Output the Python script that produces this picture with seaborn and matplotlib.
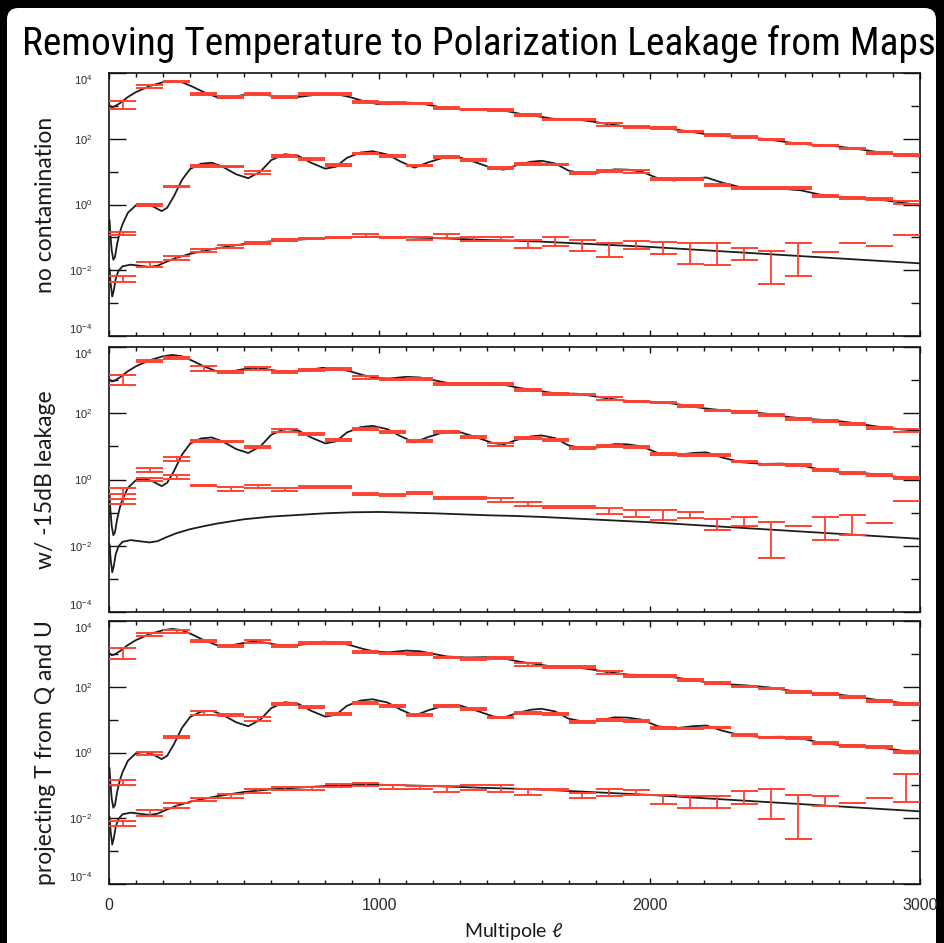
import numpy as np
import pandas as pd
import matplotlib
matplotlib.use("Agg")
import matplotlib.pyplot as plt
import seaborn as sns
from matplotlib.patches import FancyBboxPatch
from matplotlib.ticker import FixedLocator, FixedFormatter, NullFormatter

nan = np.nan

TITLE = "Removing Temperature to Polarization Leakage from Maps"
PANEL_LABELS = ["no contamination", "w/ -15dB leakage", "projecting T from Q and U"]
X_LABEL = r"Multipole $\ell$"
X_TICKS = [0, 1000, 2000, 3000]
X_TICK_LABELS = ["0", "1000", "2000", "3000"]
Y_TICKS = [1e-4, 1e-2, 1e0, 1e2, 1e4]
Y_TICK_LABELS = [r"$10^{-4}$", r"$10^{-2}$", r"$10^{0}$", r"$10^{2}$", r"$10^{4}$"]
Y_MINOR = [1e-3, 1e-1, 1e1, 1e3]

# multipole bin edges (Delta ell = 100)
BIN_EDGES = [0, 100, 200, 300, 400, 500, 600, 700, 800, 900, 1000,
             1100, 1200, 1300, 1400, 1500, 1600, 1700, 1800, 1900, 2000,
             2100, 2200, 2300, 2400, 2500, 2600, 2700, 2800, 2900, 3000]

# ---- theory spectra, log10 D_ell ----
TT_ELL = [2, 10, 20, 40, 70, 100, 150, 200, 235, 270, 310, 350, 400, 440, 490,
          530, 570, 620, 680, 730, 790, 840, 890, 940, 990, 1040, 1100, 1150,
          1200, 1250, 1320, 1400, 1460, 1520, 1580, 1650, 1730, 1790, 1850,
          1920, 2000, 2060, 2130, 2200, 2280, 2360, 2440, 2520, 2600, 2680,
          2760, 2840, 2920, 3000]
TT_LOG = [3.02, 2.96, 2.98, 3.08, 3.27, 3.42, 3.60, 3.72, 3.76, 3.72, 3.58,
          3.42, 3.26, 3.24, 3.32, 3.37, 3.35, 3.28, 3.25, 3.30, 3.37, 3.36,
          3.27, 3.15, 3.06, 3.05, 3.10, 3.08, 3.00, 2.92, 2.89, 2.90, 2.86,
          2.76, 2.69, 2.60, 2.59, 2.52, 2.44, 2.37, 2.35, 2.32, 2.24, 2.15,
          2.08, 2.04, 1.98, 1.88, 1.82, 1.78, 1.70, 1.60, 1.52, 1.46]

EE_ELL = [2, 5, 10, 16, 22, 30, 40, 50, 70, 100, 130, 160, 195, 215, 240, 270,
          300, 340, 380, 420, 470, 515, 560, 600, 650, 700, 750, 800, 840, 880,
          930, 975, 1030, 1080, 1130, 1180, 1240, 1290, 1350, 1420, 1460, 1510,
          1560, 1600, 1650, 1700, 1760, 1810, 1870, 1920, 1970, 2030, 2090,
          2160, 2210, 2270, 2340, 2420, 2490, 2560, 2630, 2700, 2780, 2860,
          2930, 3000]
EE_LOG = [-0.47, -0.90, -1.40, -1.68, -1.60, -1.20, -0.85, -0.60, -0.25, -0.02,
          0.02, -0.05, -0.20, -0.10, 0.25, 0.75, 1.08, 1.24, 1.27, 1.15, 0.92,
          0.80, 1.00, 1.35, 1.53, 1.48, 1.26, 1.09, 1.15, 1.42, 1.58, 1.62,
          1.52, 1.30, 1.12, 1.28, 1.43, 1.45, 1.30, 1.10, 1.06, 1.20, 1.30,
          1.33, 1.25, 1.03, 0.93, 0.97, 1.07, 1.06, 1.00, 0.80, 0.73, 0.80,
          0.82, 0.66, 0.52, 0.47, 0.48, 0.43, 0.30, 0.23, 0.20, 0.14, 0.06,
          -0.02]

BB_ELL = [2, 6, 12, 18, 25, 35, 50, 80, 110, 150, 180, 210, 250, 300, 350, 400,
          500, 600, 700, 800, 900, 1000, 1100, 1200, 1300, 1400, 1500, 1600,
          1700, 1800, 1900, 2000, 2200, 2400, 2600, 2800, 3000]
BB_LOG = [-1.95, -2.40, -2.80, -2.60, -2.25, -2.02, -1.88, -1.83, -1.86, -1.90,
          -1.86, -1.75, -1.62, -1.50, -1.41, -1.33, -1.20, -1.12, -1.07, -1.02,
          -0.99, -0.98, -1.00, -1.02, -1.05, -1.08, -1.10, -1.13, -1.17, -1.21,
          -1.25, -1.29, -1.39, -1.49, -1.59, -1.69, -1.79]

# ---- binned spectra: log10 of upper / lower error-bar ends per bin ----
# panel 1: no contamination
TT_HI_1 = [3.16, 3.63, 3.75, 3.39, 3.29, 3.39, 3.29, 3.39, 3.39, 3.15, 3.11, 3.10,
           2.96, 2.91, 2.91, 2.74, 2.61, 2.61, 2.47, 2.38, 2.35, 2.25, 2.13, 2.08,
           2.00, 1.88, 1.82, 1.73, 1.60, 1.53]
TT_LO_1 = [2.91, 3.55, 3.72, 3.33, 3.24, 3.34, 3.24, 3.34, 3.34, 3.09, 3.06, 3.05,
           2.91, 2.86, 2.85, 2.69, 2.56, 2.56, 2.40, 2.34, 2.30, 2.20, 2.07, 2.03,
           1.95, 1.83, 1.78, 1.68, 1.55, 1.48]
EE_HI_1 = [-0.83, 0.03, 0.56, 1.21, 1.17, 1.02, 1.50, 1.42, 1.22, 1.57, 1.52, 1.21,
           1.47, 1.39, 1.13, 1.26, 1.24, 0.99, 1.04, 1.04, 0.81, 0.81, 0.62, 0.52,
           0.52, 0.52, 0.30, 0.23, 0.20, 0.11]
EE_LO_1 = [-0.93, -0.05, 0.52, 1.13, 1.13, 0.94, 1.45, 1.36, 1.17, 1.53, 1.46, 1.16,
           1.42, 1.33, 1.07, 1.21, 1.19, 0.93, 0.99, 0.97, 0.74, 0.75, 0.57, 0.47,
           0.47, 0.47, 0.24, 0.18, 0.15, 0.01]
BB_HI_1 = [-2.19, -1.76, -1.57, -1.36, -1.23, -1.13, -1.06, -1.01, -0.98, -0.91,
           -0.98, -0.98, -0.91, -0.98, -0.98, -1.08, -0.98, -1.08, -1.18, -1.11,
           -1.15, -1.17, -1.17, -1.31, -1.40, -1.16, -1.44, -1.16, -1.26, -0.93]
BB_LO_1 = [-2.36, -1.89, -1.69, -1.46, -1.31, -1.21, -1.10, -1.05, -1.02, -1.00,
           -1.02, -1.08, -1.03, -1.11, -1.11, -1.33, -1.26, -1.41, -1.61, -1.36,
           -1.51, -1.80, -1.84, -1.70, -2.41, -2.17, nan, nan, nan, nan]

# panel 2: -15 dB T->P leakage
TT_HI_2 = [3.14, 3.62, 3.71, 3.42, 3.27, 3.39, 3.27, 3.34, 3.36, 3.11, 3.04, 3.07,
           2.92, 2.90, 2.90, 2.74, 2.62, 2.59, 2.48, 2.38, 2.35, 2.25, 2.11, 2.06,
           1.97, 1.86, 1.81, 1.71, 1.58, 1.51]
TT_LO_2 = [2.86, 3.55, 3.63, 3.29, 3.22, 3.32, 3.22, 3.28, 3.30, 3.04, 2.99, 3.01,
           2.86, 2.84, 2.84, 2.66, 2.56, 2.54, 2.41, 2.33, 2.31, 2.18, 2.06, 2.00,
           1.91, 1.81, 1.75, 1.65, 1.51, 1.44]
EE_HI_2 = [-0.45, 0.04, 0.68, 1.20, 1.17, 1.02, 1.51, 1.40, 1.22, 1.56, 1.47, 1.18,
           1.46, 1.32, 1.09, 1.27, 1.22, 0.97, 1.04, 1.00, 0.80, 0.77, 0.77, 0.57,
           0.47, 0.46, 0.33, 0.22, 0.17, 0.07]
EE_LO_2 = [-0.60, -0.05, 0.56, 1.14, 1.12, 0.96, 1.44, 1.34, 1.15, 1.48, 1.40, 1.12,
           1.40, 1.26, 1.02, 1.21, 1.17, 0.92, 0.99, 0.94, 0.74, 0.72, 0.72, 0.52,
           0.43, 0.41, 0.27, 0.17, 0.12, 0.01]
BB_HI_2 = [-0.26, 0.36, 0.13, -0.17, -0.24, -0.17, -0.26, -0.21, -0.21, -0.40,
           -0.45, -0.39, -0.53, -0.53, -0.57, -0.69, -0.79, -0.79, -0.87, -0.93,
           -0.93, -0.98, -1.20, -1.12, -1.27, -1.40, -1.12, -1.08, -1.31, -0.65]
BB_LO_2 = [-0.75, 0.23, 0.03, -0.21, -0.35, -0.25, -0.35, -0.25, -0.25, -0.46,
           -0.51, -0.45, -0.60, -0.60, -0.67, -0.79, -0.87, -0.87, -1.03, -1.12,
           -1.22, -1.15, -1.51, -1.40, -2.36, nan, -1.84, -1.69, nan, nan]

# panel 3: T projected out of Q and U
TT_HI_3 = [3.17, 3.65, 3.73, 3.42, 3.28, 3.42, 3.26, 3.37, 3.37, 3.10, 3.04, 3.04,
           2.91, 2.87, 2.89, 2.72, 2.62, 2.62, 2.47, 2.37, 2.37, 2.23, 2.13, 2.03,
           1.97, 1.86, 1.81, 1.73, 1.60, 1.50]
TT_LO_3 = [2.84, 3.55, 3.65, 3.36, 3.22, 3.34, 3.21, 3.31, 3.31, 3.04, 2.99, 2.98,
           2.86, 2.82, 2.84, 2.64, 2.56, 2.56, 2.39, 2.31, 2.31, 2.17, 2.07, 1.98,
           1.93, 1.80, 1.75, 1.65, 1.55, 1.44]
EE_HI_3 = [-0.83, 0.01, 0.49, 1.25, 1.16, 1.07, 1.51, 1.40, 1.20, 1.55, 1.45, 1.16,
           1.44, 1.36, 1.09, 1.24, 1.21, 0.95, 1.02, 0.99, 0.77, 0.76, 0.79, 0.56,
           0.48, 0.46, 0.31, 0.22, 0.19, 0.06]
EE_LO_3 = [-1.00, -0.09, 0.43, 1.15, 1.10, 0.97, 1.44, 1.34, 1.14, 1.48, 1.39, 1.10,
           1.38, 1.30, 1.04, 1.18, 1.15, 0.90, 0.96, 0.94, 0.72, 0.72, 0.74, 0.49,
           0.44, 0.41, 0.25, 0.17, 0.14, -0.01]
BB_HI_3 = [-2.08, -1.76, -1.54, -1.37, -1.27, -1.12, -1.05, -1.05, -0.95, -0.93,
           -1.00, -1.02, -1.02, -1.00, -1.00, -1.10, -1.10, -1.23, -1.12, -1.15,
           -1.30, -1.33, -1.33, -1.17, -1.12, -1.30, -1.32, -1.53, -1.37, -0.65]
BB_LO_3 = [-2.24, -1.93, -1.68, -1.47, -1.37, -1.22, -1.15, -1.15, -1.05, -1.02,
           -1.10, -1.10, -1.20, -1.15, -1.20, -1.30, -1.15, -1.38, -1.32, -1.30,
           -1.58, -1.68, -1.68, -1.58, -2.03, -2.62, -1.62, nan, nan, -1.50]

PANELS = [
    [(TT_HI_1, TT_LO_1), (EE_HI_1, EE_LO_1), (BB_HI_1, BB_LO_1)],
    [(TT_HI_2, TT_LO_2), (EE_HI_2, EE_LO_2), (BB_HI_2, BB_LO_2)],
    [(TT_HI_3, TT_LO_3), (EE_HI_3, EE_LO_3), (BB_HI_3, BB_LO_3)],
]

# ---- styling ----
W, H = 945, 943
RED = "#ff4231"
CURVE = "#1c1c1c"
TEXT_FONT = ["Lato", "DejaVu Sans"]
TITLE_FONT = ["Liberation Sans Narrow", "Roboto Condensed", "Lato", "DejaVu Sans"]

sns.set_theme(style="ticks")
plt.rcParams["font.family"] = ["Liberation Sans", "DejaVu Sans"]
plt.rcParams["mathtext.default"] = "regular"

fig = plt.figure(figsize=(W / 100, H / 100), dpi=100)
fig.patch.set_facecolor("black")
sheet = FancyBboxPatch((7 / W, -0.06), (936 - 7) / W, 1.06 - 8 / H,
                       boxstyle="round,pad=0,rounding_size=0.012",
                       transform=fig.transFigure, facecolor="white",
                       edgecolor="none", zorder=-10)
fig.add_artist(sheet)

# axes boxes in pixels: (left, top, right, bottom)
BOXES = [(109, 73, 920, 336), (109, 347, 920, 612), (109, 621, 920, 884)]

curves = pd.concat([
    pd.DataFrame({"ell": TT_ELL, "Dl": np.power(10.0, TT_LOG), "spec": "TT"}),
    pd.DataFrame({"ell": EE_ELL, "Dl": np.power(10.0, EE_LOG), "spec": "EE"}),
    pd.DataFrame({"ell": BB_ELL, "Dl": np.power(10.0, BB_LOG), "spec": "BB"}),
], ignore_index=True)


def draw_bins(ax, hi, lo):
    hi_v = np.power(10.0, np.asarray(hi, float))
    lo_v = np.power(10.0, np.asarray(lo, float))
    left = np.asarray(BIN_EDGES[:-1], float)
    right = np.asarray(BIN_EDGES[1:], float)
    mid = 0.5 * (left + right)
    ok = ~np.isnan(lo_v)
    ax.hlines(hi_v, left, right, colors=RED, lw=1.4, zorder=4)
    ax.hlines(lo_v[ok], left[ok], right[ok], colors=RED, lw=1.4, zorder=4)
    ax.vlines(mid[ok], lo_v[ok], hi_v[ok], colors=RED, lw=1.3, zorder=4)


axes = []
for i, (l, t, r, b) in enumerate(BOXES):
    ax = fig.add_axes([l / W, 1 - b / H, (r - l) / W, (b - t) / H])
    axes.append(ax)
    ax.set_facecolor("white")
    for spec in ["TT", "EE", "BB"]:
        sns.lineplot(data=curves[curves["spec"] == spec], x="ell", y="Dl",
                     ax=ax, color=CURVE, lw=1.3, estimator=None, sort=False,
                     zorder=3, legend=False)
    for hi, lo in PANELS[i]:
        draw_bins(ax, hi, lo)

    ax.set_yscale("log")
    ax.set_xlim(0, 3000)
    ax.set_ylim(1e-4, 1e4)
    ax.set_xlabel("")
    ax.set_ylabel("")

    ax.xaxis.set_major_locator(FixedLocator(X_TICKS))
    ax.xaxis.set_minor_locator(FixedLocator(BIN_EDGES))
    ax.yaxis.set_major_locator(FixedLocator(Y_TICKS))
    ax.yaxis.set_minor_locator(FixedLocator(Y_MINOR))
    ax.yaxis.set_major_formatter(FixedFormatter(Y_TICK_LABELS))
    ax.yaxis.set_minor_formatter(NullFormatter())
    if i == 2:
        ax.xaxis.set_major_formatter(FixedFormatter(X_TICK_LABELS))
    else:
        ax.xaxis.set_major_formatter(NullFormatter())
    ax.xaxis.set_minor_formatter(NullFormatter())

    ax.tick_params(axis="both", which="both", direction="in", top=True,
                   right=True, color="#111111", width=1.0)
    ax.tick_params(axis="y", which="major", length=12, pad=12,
                   labelsize=8, labelcolor="#2a2a2a")
    ax.tick_params(axis="y", which="minor", length=6.5)
    ax.tick_params(axis="x", which="major", length=4.5, pad=10,
                   labelsize=11.5, labelcolor="#2a2a2a")
    ax.tick_params(axis="x", which="minor", length=3)
    for sp in ax.spines.values():
        sp.set_visible(True)
        sp.set_linewidth(1.2)
        sp.set_color("#111111")

    fig.text(46 / W, 1 - 0.5 * (t + b) / H, PANEL_LABELS[i], rotation=90,
             ha="center", va="center", fontsize=16.5, family=TEXT_FONT,
             color="#1a1a1a")

fig.text(514 / W, 1 - 931 / H, X_LABEL, ha="center", va="center",
         fontsize=14, family=TEXT_FONT, color="#1a1a1a")

title = fig.text((21 + 937) / 2 / W, 1 - 55 / H, TITLE, ha="center",
                 va="baseline", fontsize=30, family=TITLE_FONT, color="black")
fig.canvas.draw()
tw = title.get_window_extent().width
title.set_fontsize(30 * 915 / tw)

# keep the end labels of each log axis inside the frame
for ax in axes:
    ticks = ax.yaxis.get_major_ticks()
    ticks[0].label1.set_verticalalignment("bottom")
    ticks[-1].label1.set_verticalalignment("top")

fig.savefig("out.png", dpi=100, facecolor=fig.get_facecolor())
